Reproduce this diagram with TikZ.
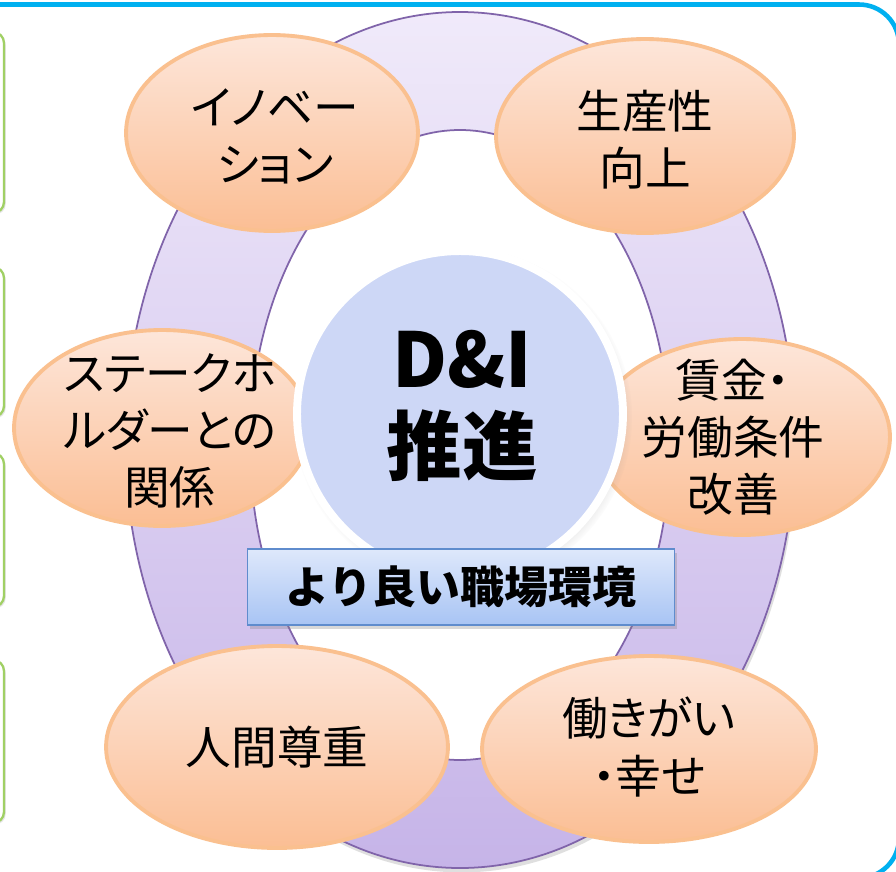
\documentclass[tikz,border=0pt]{standalone}
\usepackage{fontspec}
\setmainfont{Noto Sans CJK JP}
\newfontfamily\ovalFont{Noto Sans CJK JP}[RawFeature=+palt]
\usetikzlibrary{shapes.geometric, shadows, positioning}
\definecolor{cFrame}{RGB}{0, 176, 240}
\definecolor{cTabDraw}{RGB}{160, 208, 100}
\definecolor{cRingDraw}{RGB}{128, 100, 170}
\definecolor{cRingTop}{RGB}{240, 234, 250}
\definecolor{cRingBot}{RGB}{198, 180, 232}
\definecolor{cOvalDraw}{RGB}{250, 192, 143}
\definecolor{cOvalTop}{RGB}{253, 230, 218}
\definecolor{cOvalBot}{RGB}{251, 190, 148}
\definecolor{cCoreFill}{RGB}{205, 215, 246}
\definecolor{cBoxDraw}{RGB}{95, 140, 205}
\definecolor{cBoxTop}{RGB}{222, 232, 251}
\definecolor{cBoxBot}{RGB}{168, 196, 244}
\tikzset{
    frameLine/.style={
        draw=cFrame, line width=2.6pt, rounded corners=0.8cm
    },
    sideTab/.style={
        draw=cTabDraw, line width=1.3pt, fill=white, rounded corners=0.22cm,
        drop shadow={opacity=0.2, shadow xshift=1pt, shadow yshift=-1pt}
    },
    ringBand/.style={
        draw=cRingDraw, line width=1pt, top color=cRingTop, bottom color=cRingBot,
        drop shadow={opacity=0.25, shadow xshift=1pt, shadow yshift=-2.5pt}
    },
    ringHole/.style={
        draw=cRingDraw, line width=1pt, fill=white
    },
    peachOval/.style={
        ellipse, draw=cOvalDraw, line width=2.2pt,
        top color=cOvalTop, bottom color=cOvalBot, inner sep=0pt
    },
    ovalText/.style={
        align=center, font=\ovalFont\fontsize{26}{32.5}\selectfont
    },
    coreDisc/.style={
        circle, draw=white, line width=4.5pt, fill=cCoreFill,
        minimum size=6.52cm, inner sep=0pt,
        circular drop shadow={shadow scale=1.04, opacity=0.35,
            shadow xshift=1.5pt, shadow yshift=-2pt}
    },
    coreText/.style={
        align=center, font=\bfseries\fontsize{43}{49.5}\selectfont
    },
    envBox/.style={
        rectangle, draw=cBoxDraw, line width=1pt,
        top color=cBoxTop, bottom color=cBoxBot,
        minimum width=8.54cm, minimum height=1.52cm, inner sep=0pt,
        font=\bfseries\fontsize{25}{30}\selectfont,
        drop shadow={opacity=0.3, shadow xshift=1.5pt, shadow yshift=-2pt}
    }
}

\begin{document}
\begin{tikzpicture}[x=0.02cm, y=-0.02cm]
    \useasboundingbox (0,0) rectangle (896,872);
    \clip (0,0) rectangle (896,872);
    \fill[white] (0,0) rectangle (896,872);

    \draw[frameLine] (-100,4.5) -- (899,4.5) -- (899,878) -- (-100,878);

    \draw[sideTab] (-60,32) rectangle (4,213);
    \draw[sideTab] (-60,267) rectangle (4,417);
    \draw[sideTab] (-60,453) rectangle (4,607);
    \draw[sideTab] (-60,660) rectangle (4,823);

    \path[ringBand] (460,440) ellipse [x radius=335, y radius=428];
    \path[ringHole] (460,445) ellipse [x radius=210, y radius=315];

    \node[peachOval, minimum width=5.84cm, minimum height=3.92cm] (innov) at (272,133) {};
    \node[peachOval, minimum width=5.96cm, minimum height=3.88cm] (prod) at (645,136) {};
    \node[peachOval, minimum width=5.92cm, minimum height=3.92cm] (stake) at (162,428) {};
    \node[peachOval, minimum width=5.92cm, minimum height=3.92cm] (wage) at (742,437) {};
    \node[peachOval, minimum width=6.84cm, minimum height=4.04cm] (respect) at (277,747) {};
    \node[peachOval, minimum width=6.68cm, minimum height=3.72cm] (motiv) at (649,749) {};

    \node[ovalText] (innovText) at ([xshift=0.06cm, yshift=-0.06cm]innov) {イノベー\\ション};
    \node[ovalText] (prodText) at ([yshift=-0.08cm]prod) {生産性\\向上};
    \node[ovalText] (stakeText) at ([xshift=0.16cm, yshift=-0.06cm]stake) {ステークホ\\ルダーとの\\関係};
    \node[ovalText] (wageText) at ([xshift=-0.18cm]wage) {賃金・\\労働条件\\改善};
    \node[ovalText] (respectText) at (respect) {人間尊重};
    \node[ovalText] (motivText) at ([yshift=0.04cm]motiv) {働きがい\\・幸せ};

    \node[coreDisc] (core) at (460,414) {};
    \node[coreText] (coreLabel) at (462,406) {D\&I\\推進};

    \node[envBox] (env) at (461,587) {より良い職場環境};
\end{tikzpicture}
\end{document}
